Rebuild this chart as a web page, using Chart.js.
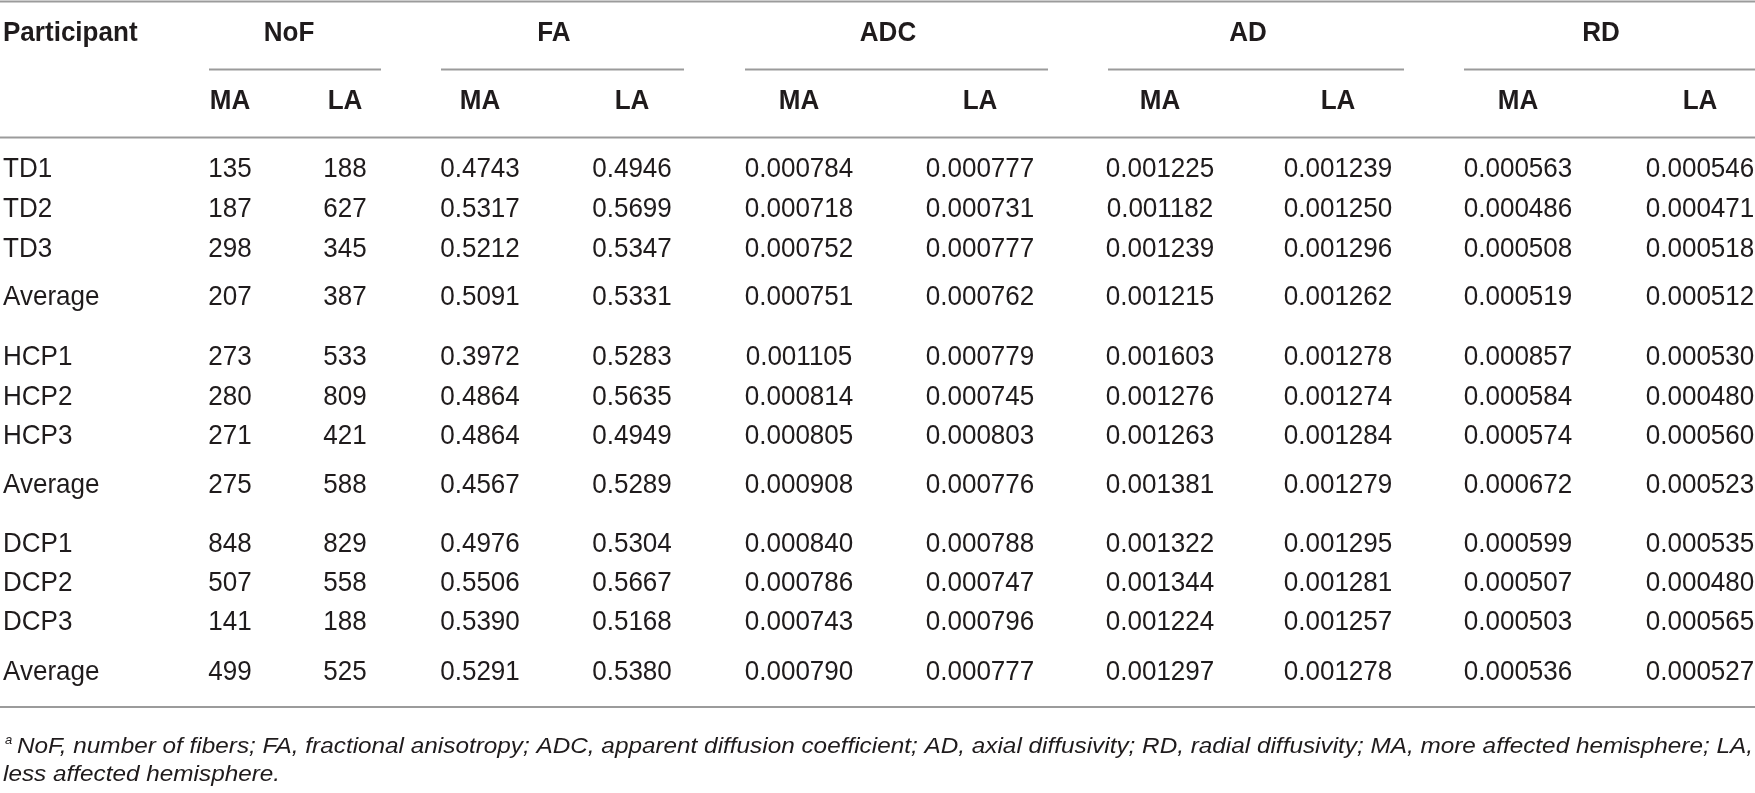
<!DOCTYPE html>
<html>
<head>
<meta charset="utf-8">
<script src="https://cdn.jsdelivr.net/npm/chart.js@4/dist/chart.umd.min.js"></script>
<style>
  html, body { margin: 0; padding: 0; background: #fff; }
  #wrap { width: 1755px; height: 793px; }
</style>
</head>
<body>
<div id="wrap"><canvas id="tbl" width="1755" height="793"></canvas></div>
<script>
// table content
const participants = ["TD1", "TD2", "TD3", "Average", "HCP1", "HCP2", "HCP3", "Average", "DCP1", "DCP2", "DCP3", "Average"];
const groups = ["NoF", "FA", "ADC", "AD", "RD"];
const subLabels = ["MA", "LA"];
const groupDecimals = [0, 4, 6, 6, 6];

const nofMA = [135, 187, 298, 207, 273, 280, 271, 275, 848, 507, 141, 499];
const nofLA = [188, 627, 345, 387, 533, 809, 421, 588, 829, 558, 188, 525];
const faMA = [0.4743, 0.5317, 0.5212, 0.5091, 0.3972, 0.4864, 0.4864, 0.4567, 0.4976, 0.5506, 0.5390, 0.5291];
const faLA = [0.4946, 0.5699, 0.5347, 0.5331, 0.5283, 0.5635, 0.4949, 0.5289, 0.5304, 0.5667, 0.5168, 0.5380];
const adcMA = [0.000784, 0.000718, 0.000752, 0.000751, 0.001105, 0.000814, 0.000805, 0.000908, 0.000840, 0.000786, 0.000743, 0.000790];
const adcLA = [0.000777, 0.000731, 0.000777, 0.000762, 0.000779, 0.000745, 0.000803, 0.000776, 0.000788, 0.000747, 0.000796, 0.000777];
const adMA = [0.001225, 0.001182, 0.001239, 0.001215, 0.001603, 0.001276, 0.001263, 0.001381, 0.001322, 0.001344, 0.001224, 0.001297];
const adLA = [0.001239, 0.001250, 0.001296, 0.001262, 0.001278, 0.001274, 0.001284, 0.001279, 0.001295, 0.001281, 0.001257, 0.001278];
const rdMA = [0.000563, 0.000486, 0.000508, 0.000519, 0.000857, 0.000584, 0.000574, 0.000672, 0.000599, 0.000507, 0.000503, 0.000536];
const rdLA = [0.000546, 0.000471, 0.000518, 0.000512, 0.000530, 0.000480, 0.000560, 0.000523, 0.000535, 0.000480, 0.000565, 0.000527];

const footnoteMark = "a";
const footnoteLines = [
  "NoF, number of fibers; FA, fractional anisotropy; ADC, apparent diffusion coefficient; AD, axial diffusivity; RD, radial diffusivity; MA, more affected hemisphere; LA,",
  "less affected hemisphere."
];

const columns = [nofMA, nofLA, faMA, faLA, adcMA, adcLA, adMA, adLA, rdMA, rdLA];

// layout (scale units = pixels of the 1755x793 page)
const colX = [230, 345, 480, 632, 799, 980, 1160, 1338, 1518, 1700];
const groupSpan = [[209, 381], [441, 684], [745, 1048], [1108, 1404], [1464, 1755]];
const groupLabelX = [289, 554, 888, 1248, 1601];
const rowY = [169.5, 209, 249, 297, 357, 397, 436, 485, 544, 583, 622, 672];
const headY = 33, subY = 101;
const ruleTop = 1.5, ruleGroup = 69.5, ruleHead = 137.5, ruleBottom = 707;
const noteBase = [753, 781];

const FONT = '"Liberation Sans", Arial, Helvetica, sans-serif';
const NARROW = 0.93;
const TEXT = "#1f1b1c";
const RULE = "#9b9b9b";

function drawText(ctx, text, x, y, align, font, sx) {
  ctx.save();
  ctx.font = font;
  ctx.textAlign = align;
  ctx.translate(x, y);
  ctx.scale(sx, 1);
  ctx.fillText(text, 0, 0);
  ctx.restore();
}

const tablePlugin = {
  id: "tableText",
  afterDatasetsDraw(chart) {
    const ctx = chart.ctx;
    const xs = chart.scales.x, ys = chart.scales.y;
    const px = (v) => xs.getPixelForValue(v);
    const py = (v) => ys.getPixelForValue(v);

    ctx.save();
    // rules
    ctx.strokeStyle = RULE;
    ctx.lineWidth = 2;
    const hline = (x0, x1, y) => {
      ctx.beginPath();
      ctx.moveTo(px(x0), py(y));
      ctx.lineTo(px(x1), py(y));
      ctx.stroke();
    };
    hline(0, 1755, ruleTop);
    hline(0, 1755, ruleHead);
    hline(0, 1755, ruleBottom);
    groupSpan.forEach((s) => hline(s[0], s[1], ruleGroup));

    ctx.fillStyle = TEXT;
    ctx.textBaseline = "middle";
    const bold = "bold 28px " + FONT;
    const reg = "28px " + FONT;

    // headers
    drawText(ctx, "Participant", px(3), py(headY), "left", bold, NARROW);
    groups.forEach((g, i) => drawText(ctx, g, px(groupLabelX[i]), py(headY), "center", bold, NARROW));
    colX.forEach((x, i) => drawText(ctx, subLabels[i % 2], px(x), py(subY), "center", bold, NARROW));

    // participant names
    participants.forEach((p, r) => drawText(ctx, p, px(3), py(rowY[r]), "left", reg, NARROW));

    // value cells, placed at each dataset point
    chart.data.datasets.forEach((ds, di) => {
      const meta = chart.getDatasetMeta(di);
      const dec = groupDecimals[Math.floor(di / 2)];
      meta.data.forEach((el, r) => {
        drawText(ctx, ds.values[r].toFixed(dec), el.x, el.y, "center", reg, NARROW);
      });
    });

    // footnote
    ctx.textBaseline = "alphabetic";
    const note = "italic 22px " + FONT;
    ctx.font = note;
    const fit = (px(1753) - px(17)) / ctx.measureText(footnoteLines[0]).width;
    drawText(ctx, footnoteMark, px(5), py(noteBase[0] - 9), "left", "italic 13px " + FONT, 1);
    drawText(ctx, footnoteLines[0], px(17), py(noteBase[0]), "left", note, fit);
    drawText(ctx, footnoteLines[1], px(3), py(noteBase[1]), "left", note, fit);
    ctx.restore();
  }
};

new Chart(document.getElementById("tbl"), {
  type: "scatter",
  data: {
    datasets: columns.map((vals, c) => ({
      label: groups[Math.floor(c / 2)] + " " + subLabels[c % 2],
      values: vals,
      data: vals.map((v, r) => ({ x: colX[c], y: rowY[r] })),
      pointRadius: 0,
      showLine: false
    }))
  },
  options: {
    responsive: false,
    animation: false,
    events: [],
    layout: { padding: 0 },
    plugins: { legend: { display: false }, tooltip: { enabled: false } },
    scales: {
      x: { type: "linear", min: 0, max: 1755, display: false },
      y: { type: "linear", min: 0, max: 793, reverse: true, display: false }
    }
  },
  plugins: [tablePlugin]
});
</script>
</body>
</html>
